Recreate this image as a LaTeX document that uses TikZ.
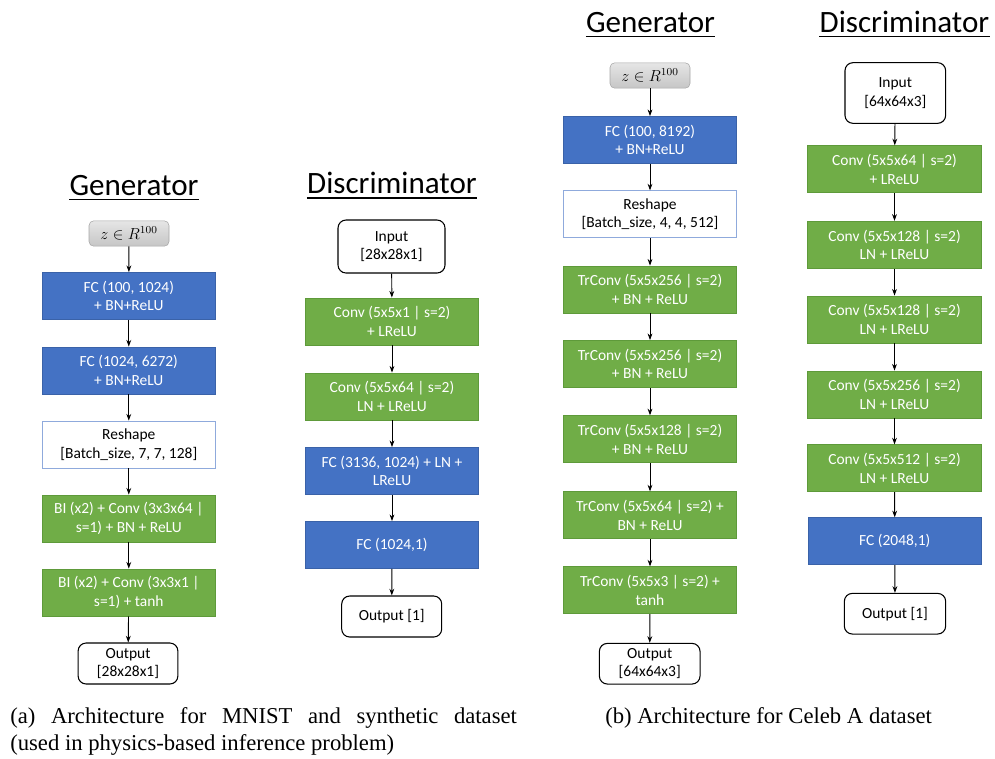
\documentclass[tikz,border=0pt]{standalone}
\usepackage{fontspec}
\usetikzlibrary{arrows.meta}
\newfontfamily\boxfont{Carlito}
\newfontfamily\capfont{Liberation Serif}
\definecolor{fcblue}{HTML}{4472C4}
\definecolor{fcedge}{HTML}{3A62A8}
\definecolor{convgreen}{HTML}{70AD47}
\definecolor{convedge}{HTML}{5E9A3A}
\definecolor{reshapeedge}{HTML}{8FAADC}
\definecolor{zedge}{HTML}{A6A6A6}
\tikzset{
  layer/.style={rectangle, minimum width=130pt, minimum height=35.25pt, inner sep=0pt,
    align=center, text=white, line width=0.6pt,
    font=\boxfont\fontsize{11.6}{13.8}\selectfont},
  fcbox/.style={layer, fill=fcblue, draw=fcedge},
  convbox/.style={layer, fill=convgreen, draw=convedge},
  reshapebox/.style={layer, fill=white, draw=reshapeedge, text=black},
  iobox/.style={rectangle, rounded corners=6pt, draw=black, fill=white, text=black,
    line width=0.8pt, inner sep=0pt, align=center,
    font=\boxfont\fontsize{11.6}{13.8}\selectfont},
  zbox/.style={rectangle, rounded corners=3.5pt, draw=zedge, top color=gray!20,
    bottom color=gray!45, minimum width=60pt, minimum height=19pt, inner sep=0pt,
    font=\fontsize{11.5}{13}\selectfont},
  title/.style={anchor=base, inner sep=0pt, font=\boxfont\fontsize{23.3}{28}\selectfont},
  flow/.style={-{Stealth[length=5pt,width=3.6pt]}, line width=0.7pt, black},
  capt/.style={anchor=base west, inner sep=0pt, font=\capfont\fontsize{17}{20.25}\selectfont}
}
\newcommand{\titleline}[1]{\draw[line width=1pt] ([yshift=-3.4pt]#1.base west) -- ([yshift=-3.4pt]#1.base east);}
\begin{document}
\begin{tikzpicture}[x=0.75pt, y=-0.75pt]
\useasboundingbox (0,0) rectangle (995,758);

% ---------- (a) generator ----------
\node[title] (tGa) at (134,195) {Generator};
\titleline{tGa}
\node[zbox] (za) at (129,233.5) {$z \in R^{100}$};
\node[fcbox] (ga1) at (128.8,296) {FC (100, 1024)\\+ BN+ReLU};
\node[fcbox] (ga2) at (128.8,370.5) {FC (1024, 6272)\\+ BN+ReLU};
\node[reshapebox] (ga3) at (128.8,444.5) {Reshape\\{}[Batch\_size, 7, 7, 128]};
\node[convbox] (ga4) at (128.8,518.5) {BI (x2) + Conv (3x3x64 |\\s=1) + BN + ReLU};
\node[convbox] (ga5) at (128.8,592.5) {BI (x2) + Conv (3x3x1 |\\s=1) + tanh};
\node[iobox, minimum width=74.8pt, minimum height=30.75pt] (gaout) at (128,663.5) {Output\\{}[28x28x1]};
\draw[flow] (za) -- (ga1);
\draw[flow] (ga1) -- (ga2);
\draw[flow] (ga2) -- (ga3);
\draw[flow] (ga3) -- (ga4);
\draw[flow] (ga4) -- (ga5);
\draw[flow] (ga5) -- (gaout);

% ---------- (a) discriminator ----------
\node[title] (tDa) at (392,193.5) {Discriminator};
\titleline{tDa}
\node[iobox, minimum width=80.25pt, minimum height=39.75pt] (dain) at (391.5,246.5) {Input\\{}[28x28x1]};
\node[convbox] (da1) at (392,321.5) {Conv (5x5x1 | s=2)\\+ LReLU};
\node[convbox] (da2) at (392,396.5) {Conv (5x5x64 | s=2)\\LN + LReLU};
\node[fcbox] (da3) at (392,471) {FC (3136, 1024) + LN +\\LReLU};
\node[fcbox] (da4) at (392,545) {FC (1024,1)};
\node[iobox, minimum width=75pt, minimum height=30.75pt] (daout) at (391.7,616.5) {Output [1]};
\draw[flow] (dain) -- (da1);
\draw[flow] (da1) -- (da2);
\draw[flow] (da2) -- (da3);
\draw[flow] (da3) -- (da4);
\draw[flow] (da4) -- (daout);

% ---------- (b) generator ----------
\node[title] (tGb) at (650.5,32) {Generator};
\titleline{tGb}
\node[zbox] (zb) at (650,75.5) {$z \in R^{100}$};
\node[fcbox] (gb1) at (650,140) {FC (100, 8192)\\+ BN+ReLU};
\node[reshapebox] (gb2) at (650,214.3) {Reshape\\{}[Batch\_size, 4, 4, 512]};
\node[convbox] (gb3) at (650,289.5) {TrConv (5x5x256 | s=2)\\+ BN + ReLU};
\node[convbox] (gb4) at (650,364) {TrConv (5x5x256 | s=2)\\+ BN + ReLU};
\node[convbox] (gb5) at (650,439.2) {TrConv (5x5x128 | s=2)\\+ BN + ReLU};
\node[convbox] (gb6) at (650,515.3) {TrConv (5x5x64 | s=2) +\\BN + ReLU};
\node[convbox] (gb7) at (650,590.3) {TrConv (5x5x3 | s=2) +\\tanh};
\node[iobox, minimum width=75.5pt, minimum height=30.5pt] (gbout) at (649.7,663.7) {Output\\{}[64x64x3]};
\draw[flow] (zb) -- (gb1);
\draw[flow] (gb1) -- (gb2);
\draw[flow] (gb2) -- (gb3);
\draw[flow] (gb3) -- (gb4);
\draw[flow] (gb4) -- (gb5);
\draw[flow] (gb5) -- (gb6);
\draw[flow] (gb6) -- (gb7);
\draw[flow] (gb7) -- (gbout);

% ---------- (b) discriminator ----------
\node[title] (tDb) at (904.5,32) {Discriminator};
\titleline{tDb}
\node[iobox, minimum width=75.5pt, minimum height=45.5pt] (dbin) at (895.3,93) {Input\\{}[64x64x3]};
\node[convbox] (db1) at (894.5,169.2) {Conv (5x5x64 | s=2)\\+ LReLU};
\node[convbox] (db2) at (894.5,244.7) {Conv (5x5x128 | s=2)\\LN + LReLU};
\node[convbox] (db3) at (894.5,319.5) {Conv (5x5x128 | s=2)\\LN + LReLU};
\node[convbox] (db4) at (894.5,394.5) {Conv (5x5x256 | s=2)\\LN + LReLU};
\node[convbox] (db5) at (894.5,468.3) {Conv (5x5x512 | s=2)\\LN + LReLU};
\node[fcbox] (db6) at (894.8,541.2) {FC (2048,1)};
\node[iobox, minimum width=76pt, minimum height=30.5pt] (dbout) at (895,613.7) {Output [1]};
\draw[flow] (dbin) -- (db1);
\draw[flow] (db1) -- (db2);
\draw[flow] (db2) -- (db3);
\draw[flow] (db3) -- (db4);
\draw[flow] (db4) -- (db5);
\draw[flow] (db5) -- (db6);
\draw[flow] (db6) -- (dbout);

% ---------- captions ----------
\node[capt] (capa1) at (10,723) {\makebox[380pt][s]{(a) Architecture for MNIST and synthetic dataset}};
\node[capt] (capa2) at (10,750) {(used in physics-based inference problem)};
\node[capt] (capb) at (605,723) {(b) Architecture for Celeb A dataset};
\end{tikzpicture}
\end{document}
